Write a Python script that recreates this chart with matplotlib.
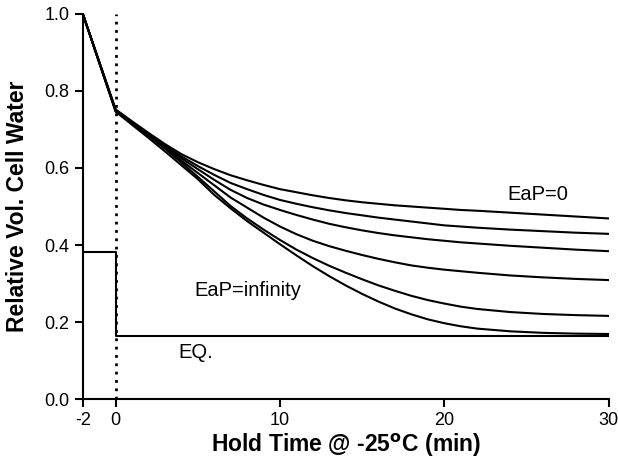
import matplotlib
matplotlib.use("Agg")
import matplotlib.pyplot as plt

plt.rcParams['font.family'] = ['Liberation Sans', 'DejaVu Sans']
plt.rcParams['axes.unicode_minus'] = False

# tiempos (min)
t = [-2, 0, 1, 2, 3, 4, 5, 6, 7, 8, 9, 10, 11, 12, 13, 14, 15, 16, 17, 18, 19, 20, 21, 22, 24, 26, 28, 30]

# volumen relativo de agua, de EaP=0 (arriba) a EaP=infinity (abajo)
c1 = [1.0, 0.752, 0.721, 0.691, 0.662, 0.636, 0.615, 0.597, 0.581, 0.568, 0.556, 0.545, 0.537, 0.529, 0.522,
      0.516, 0.511, 0.507, 0.503, 0.500, 0.497, 0.494, 0.491, 0.489, 0.484, 0.479, 0.474, 0.469]
c2 = [1.0, 0.750, 0.719, 0.688, 0.658, 0.630, 0.605, 0.582, 0.561, 0.545, 0.530, 0.517, 0.507, 0.498, 0.490,
      0.483, 0.477, 0.471, 0.466, 0.461, 0.456, 0.451, 0.448, 0.445, 0.440, 0.436, 0.432, 0.429]
c3 = [1.0, 0.749, 0.718, 0.686, 0.655, 0.625, 0.597, 0.569, 0.543, 0.522, 0.505, 0.491, 0.478, 0.466, 0.455,
      0.446, 0.438, 0.431, 0.425, 0.420, 0.415, 0.411, 0.407, 0.404, 0.398, 0.393, 0.388, 0.384]
c4 = [1.0, 0.748, 0.717, 0.685, 0.652, 0.619, 0.587, 0.555, 0.523, 0.497, 0.471, 0.448, 0.428, 0.411, 0.397,
      0.385, 0.374, 0.364, 0.355, 0.347, 0.341, 0.336, 0.332, 0.328, 0.321, 0.316, 0.312, 0.309]
c5 = [1.0, 0.747, 0.716, 0.684, 0.650, 0.614, 0.577, 0.539, 0.501, 0.469, 0.440, 0.413, 0.388, 0.366, 0.346,
      0.328, 0.311, 0.295, 0.281, 0.268, 0.257, 0.248, 0.240, 0.234, 0.226, 0.221, 0.218, 0.216]
c6 = [1.0, 0.746, 0.712, 0.678, 0.643, 0.607, 0.571, 0.530, 0.495, 0.462, 0.432, 0.402, 0.373, 0.345, 0.319,
      0.295, 0.273, 0.253, 0.235, 0.220, 0.207, 0.197, 0.189, 0.183, 0.176, 0.172, 0.170, 0.169]
curvas = [c1, c2, c3, c4, c5, c6]

# linea de equilibrio (escalon)
t_eq = [-2, 0, 0, 30]
v_eq = [0.383, 0.383, 0.165, 0.165]

fig = plt.figure(figsize=(6.18, 4.63), dpi=100)
ax = fig.add_axes([0.134, 0.138, 0.851, 0.832])

for c in curvas:
    ax.plot(t, c, color='black', linewidth=1.5)
ax.plot(t_eq, v_eq, color='black', linewidth=1.5)
ax.plot([0, 0], [0, 1.0], color='black', linewidth=2, linestyle=(0, (1, 2)))

ax.text(25.7, 0.532, 'EaP=0', fontsize=14.5, ha='center', va='center')
ax.text(4.76, 0.283, 'EaP=infinity', fontsize=14.5, ha='left', va='center')
ax.text(3.84, 0.12, 'EQ.', fontsize=14.5, ha='left', va='center')

ax.set_xlim(-2, 30)
ax.set_ylim(0, 1.0)
ax.set_xticks([-2, 0, 10, 20, 30])
ax.set_yticks([0.0, 0.2, 0.4, 0.6, 0.8, 1.0])
ax.set_yticklabels(['0.0', '0.2', '0.4', '0.6', '0.8', '1.0'])
ax.tick_params(labelsize=13, width=1.5, length=6, direction='out')
for s in ['top', 'right']:
    ax.spines[s].set_visible(False)
for s in ['left', 'bottom']:
    ax.spines[s].set_linewidth(1.5)

ax.set_xlabel(r'Hold Time @ -25$^{\mathbf{o}}$C (min)', fontsize=16.5, fontweight='bold')
ax.set_ylabel('Relative Vol. Cell Water', fontsize=16.5, fontweight='bold')
ax.xaxis.set_label_coords(0.5, -0.085)
ax.yaxis.set_label_coords(-0.103, 0.5)

fig.savefig('out.png', dpi=100)
